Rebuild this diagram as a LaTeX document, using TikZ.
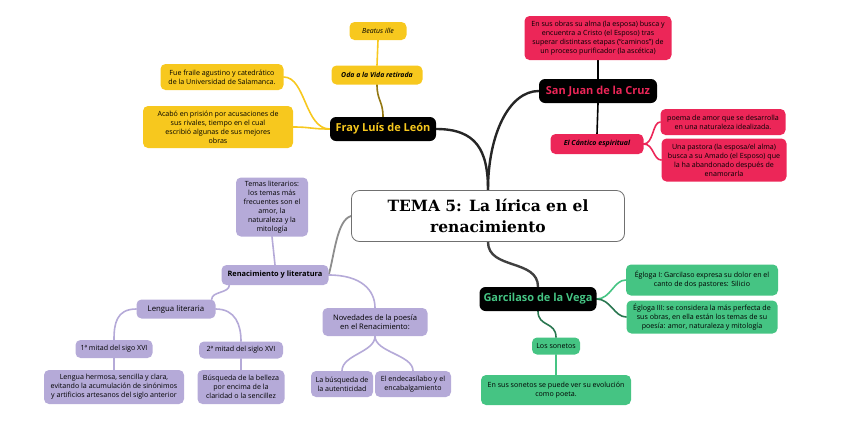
\documentclass[tikz,border=0pt]{standalone}
\usepackage{fontspec}
\setmainfont{Open Sans}
\newfontfamily\slabfont{DejaVu Serif}
\usetikzlibrary{positioning,backgrounds}
\definecolor{amarillo}{HTML}{F7C81E}
\definecolor{rosa}{HTML}{EC2658}
\definecolor{verde}{HTML}{45C483}
\definecolor{lila}{HTML}{B5AAD8}
\definecolor{gris}{HTML}{707070}

\begin{document}
\begin{tikzpicture}[x=1pt,y=-1pt,
  leaf/.style={rounded corners=5pt,inner sep=2pt,align=center,text=black,
    font=\fontsize{7.1}{9}\selectfont},
  autor/.style={fill=black,rounded corners=6pt,inner sep=2pt,minimum height=24pt,
    font=\bfseries\fontsize{11}{12}\selectfont},
  rama/.style={line width=2.4pt,line cap=round},
  hoja/.style={line width=1.6pt,line cap=round}]
\useasboundingbox (0,0) rectangle (848,432);
% ---- centre ----
\node[draw=gris,line width=0.8pt,fill=white,rounded corners=8pt,minimum width=273pt,minimum height=51pt,
  align=center,font=\slabfont\bfseries\fontsize{15.5}{21}\selectfont] (tema) at (488,216) {TEMA 5: La lírica en el\\renacimiento};
% ---- Fray Luis de Leon ----
\node[autor,text=amarillo,minimum width=106pt] (fray) at (383,129) {Fray Luís de León};
\node[leaf,fill=amarillo,minimum width=91pt,minimum height=19pt,font=\bfseries\itshape\fontsize{6.9}{8}\selectfont] (oda) at (377,75) {Oda a la Vida retirada};
\node[leaf,fill=amarillo,minimum width=57pt,minimum height=18pt,font=\itshape\fontsize{7}{8}\selectfont] (beatus) at (378,31) {Beatus ille};
\node[leaf,fill=amarillo,minimum width=123pt,minimum height=26pt] (fraile) at (222,77) {Fue fraile agustino y catedrático\\de la Universidad de Salamanca.};
\node[leaf,fill=amarillo,minimum width=150pt,minimum height=42pt] (prision) at (218,127) {Acabó en prisión por acusaciones de\\sus rivales, tiempo en el cual\\escribió algunas de sus mejores\\obras};
% ---- San Juan de la Cruz ----
\node[autor,text=rosa,minimum width=118pt] (sanjuan) at (598,91) {San Juan de la Cruz};
\node[leaf,fill=rosa,minimum width=147pt,minimum height=44pt] (obras) at (598,38) {En sus obras su alma (la esposa) busca y\\encuentra a Cristo (el Esposo) tras\\superar distintass etapas (“caminos”) de\\un proceso purificador (la ascética)};
\node[leaf,fill=rosa,minimum width=93pt,minimum height=20pt,font=\bfseries\itshape\fontsize{7}{8}\selectfont] (cantico) at (597,144) {El Cántico espiritual};
\node[leaf,fill=rosa,minimum width=125pt,minimum height=26pt] (poema) at (723,122) {poema de amor que se desarrolla\\en una naturaleza idealizada.};
\node[leaf,fill=rosa,minimum width=125pt,minimum height=43pt] (pastora) at (724,160) {Una pastora (la esposa/el alma)\\busca a su Amado (el Esposo) que\\la ha abandonado después de\\enamorarla};
% ---- Garcilaso de la Vega ----
\node[autor,text=verde,minimum width=117pt] (garci) at (538,299) {Garcilaso de la Vega};
\node[leaf,fill=verde,minimum width=152pt,minimum height=31pt] (egloga1) at (702,280) {Égloga I: Garcilaso expresa su dolor en el\\canto de dos pastores: Silicio};
\node[leaf,fill=verde,minimum width=151pt,minimum height=33pt] (egloga3) at (702,317) {Égloga III: se considera la más perfecta de\\sus obras, en ella están los temas de su\\poesía: amor, naturaleza y mitología};
\node[leaf,fill=verde,minimum width=48pt,minimum height=17pt] (sonetos) at (556,346) {Los sonetos};
\node[leaf,fill=verde,minimum width=150pt,minimum height=30pt] (evolucion) at (556,390) {En sus sonetos se puede ver su evolución\\como poeta.};
% ---- Renacimiento y literatura ----
\node[leaf,fill=lila,minimum width=107pt,minimum height=20pt,font=\bfseries\fontsize{7.4}{8}\selectfont] (renac) at (275,275) {Renacimiento y literatura};
\node[leaf,fill=lila,minimum width=72pt,minimum height=59pt] (temas) at (272,207) {Temas literarios:\\los temas más\\frecuentes son el\\amor, la\\naturaleza y la\\mitología};
\node[leaf,fill=lila,minimum width=79pt,minimum height=19pt,font=\fontsize{7.8}{9}\selectfont] (lengua) at (176,309) {Lengua literaria};
\node[leaf,fill=lila,minimum width=77pt,minimum height=18pt] (mitad1) at (114,349) {1ª mitad del sigo XVI};
\node[leaf,fill=lila,minimum width=84pt,minimum height=17pt] (mitad2) at (241,350) {2ª mitad del siglo XVI};
\node[leaf,fill=lila,minimum width=140pt,minimum height=34pt] (hermosa) at (114,387) {Lengua hermosa, sencilla y clara,\\evitando la acumulación de sinónimos\\y artificios artesanos del siglo anterior};
\node[leaf,fill=lila,minimum width=87pt,minimum height=34pt] (busqueda) at (241,387) {Búsqueda de la belleza\\por encima de la\\claridad o la sencillez};
\node[leaf,fill=lila,minimum width=105pt,minimum height=28pt,font=\fontsize{7.6}{9.4}\selectfont] (novedades) at (375,322) {Novedades de la poesía\\en el Renacimiento:};
\node[leaf,fill=lila,minimum width=62pt,minimum height=26pt] (autent) at (342,384) {La búsqueda de\\la autenticidad};
\node[leaf,fill=lila,minimum width=76pt,minimum height=26pt] (endeca) at (413,384) {El endecasílabo y el\\encabalgamiento};
% ---- connectors ----
\begin{scope}[on background layer]
\draw[rama,black!85] (fray.east) .. controls +(40,0) and +(0,-40) .. (tema.north);
\draw[rama,black!85] (tema.north) .. controls +(0,-55) and +(-30,0) .. (sanjuan.west);
\draw[rama,black!75] (tema.south) .. controls +(0,28) and +(0,-28) .. (garci.north);
\draw[rama,gris!80,line width=1.8pt] (tema.west) .. controls +(-14,4) and +(6,-22) .. (renac.east);
\draw[hoja,amarillo!60!black] (fray.north) .. controls +(0,-16) and +(0,16) .. (oda.south);
\draw[hoja,amarillo] (oda.north) -- (beatus.south);
\draw[hoja,amarillo] (fray.west) .. controls +(-25,0) and +(22,0) .. (fraile.east);
\draw[hoja,amarillo] (fray.west) .. controls +(-20,0) and +(18,0) .. (prision.east);
\draw[hoja,black] (sanjuan.north) -- (obras.south);
\draw[hoja,black] (sanjuan.south) -- (cantico.north);
\draw[hoja,rosa] (cantico.east) .. controls +(10,0) and +(-8,0) .. (poema.west);
\draw[hoja,rosa] (cantico.east) .. controls +(10,0) and +(-8,0) .. (pastora.west);
\draw[hoja,verde] (garci.east) .. controls +(14,0) and +(-12,0) .. (egloga1.west);
\draw[hoja,verde!60!black] (garci.east) .. controls +(14,0) and +(-12,0) .. (egloga3.west);
\draw[hoja,verde!60!black] (garci.south) .. controls +(0,16) and +(0,-16) .. (sonetos.north);
\draw[hoja,verde] (sonetos.south) -- (evolucion.north);
\draw[hoja,lila] (temas.south) -- (renac.north);
\draw[hoja,lila] (renac.east) .. controls +(32,0) and +(0,-18) .. (novedades.north);
\draw[hoja,lila] ([xshift=8pt]renac.south west) .. controls +(0,8) and +(0,-8) .. ([xshift=-4pt]lengua.north east);
\draw[hoja,lila] (lengua.west) .. controls +(-20,0) and +(0,-16) .. (mitad1.north);
\draw[hoja,lila] (lengua.east) .. controls +(20,0) and +(0,-16) .. (mitad2.north);
\draw[hoja,lila] (mitad1.south) -- (hermosa.north);
\draw[hoja,lila] (mitad2.south) -- (busqueda.north);
\draw[hoja,lila] (novedades.south) .. controls +(0,16) and +(0,-16) .. (autent.north);
\draw[hoja,lila] (novedades.south) .. controls +(0,16) and +(0,-16) .. (endeca.north);
\end{scope}
\end{tikzpicture}
\end{document}
